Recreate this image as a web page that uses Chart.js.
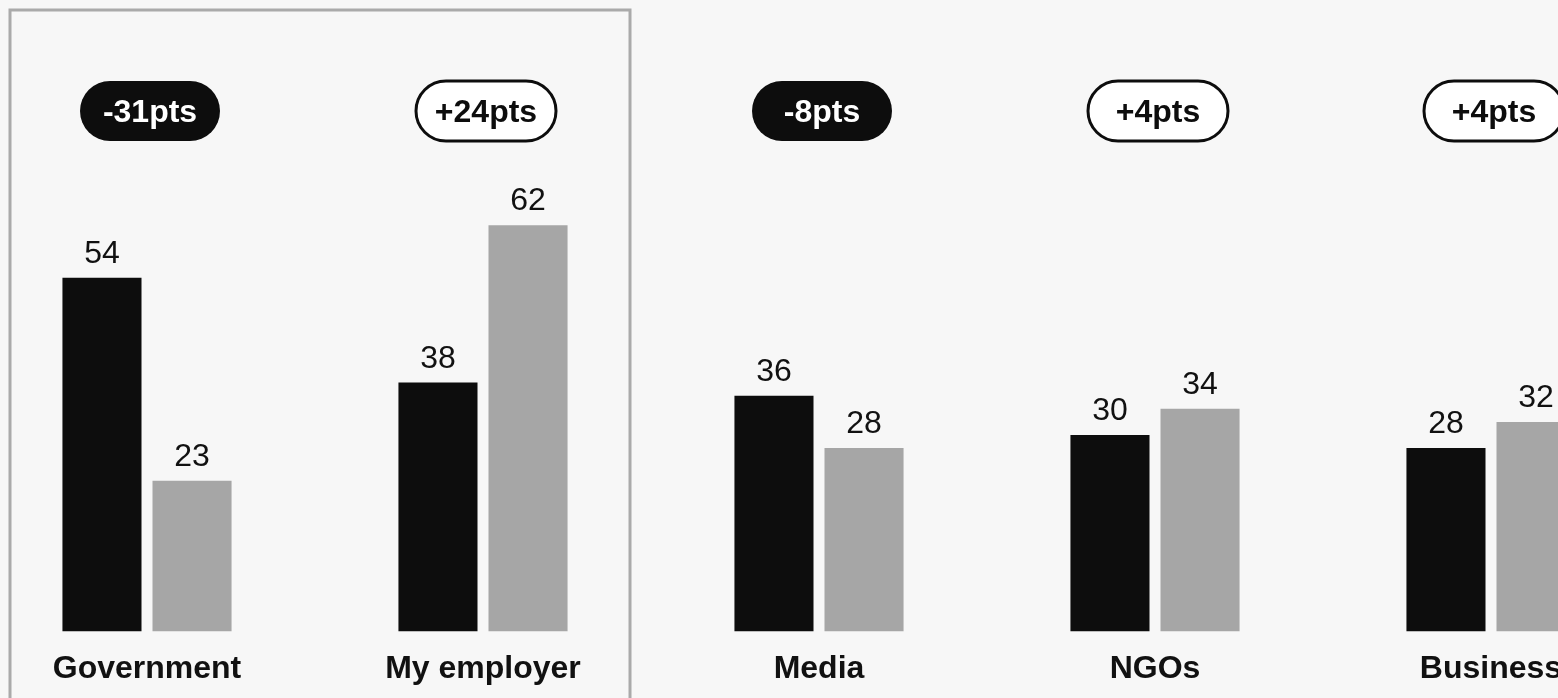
<!DOCTYPE html>
<html>
<head>
<meta charset="utf-8">
<script src="https://cdn.jsdelivr.net/npm/chart.js@4"></script>
<style>
  html, body { margin: 0; padding: 0; background: #f7f7f7; overflow: hidden; }
  #wrap { position: relative; width: 1558px; height: 698px; overflow: hidden; }
  #myChart { position: absolute; left: -21px; top: 0; }
</style>
</head>
<body>
<div id="wrap"><canvas id="myChart" width="1680" height="698"></canvas></div>
<script>
// data
const categories = ["Government", "My employer", "Media", "NGOs", "Business"];
const seriesA = [54, 38, 36, 30, 28];   // black
const seriesB = [23, 62, 28, 34, 32];   // gray
const changeLabels = ["-31pts", "+24pts", "-8pts", "+4pts", "+4pts"];

const FONT = "'Liberation Sans', Arial, sans-serif";
const BLACK = "#0d0d0d";
const GRAY = "#a6a6a6";

// value labels, pills and the box
const decorations = {
  id: 'decorations',
  beforeDatasetsDraw(chart) {
    const ctx = chart.ctx;
    const x = chart.scales.x;
    // highlighted box around first two categories
    const left = x.getPixelForValue(0) - 137;
    const right = x.getPixelForValue(1) + 147;
    ctx.save();
    ctx.strokeStyle = "#aaaaaa";
    ctx.lineWidth = 3;
    ctx.strokeRect(left, 10, right - left, chart.height + 20);
    ctx.restore();
  },
  afterDatasetsDraw(chart) {
    const ctx = chart.ctx;
    ctx.save();
    ctx.font = "32px " + FONT;
    ctx.fillStyle = "#111";
    ctx.textAlign = "center";
    ctx.textBaseline = "alphabetic";
    chart.data.datasets.forEach((ds, di) => {
      chart.getDatasetMeta(di).data.forEach((bar, i) => {
        ctx.fillText(String(ds.data[i]), bar.x, bar.y - 15);
      });
    });

    // pills
    const x = chart.scales.x;
    const w = 140, h = 60, cy = 111;
    ctx.font = "bold 32px " + FONT;
    ctx.textBaseline = "middle";
    changeLabels.forEach((txt, i) => {
      const cx = x.getPixelForValue(i) + 3;
      const neg = txt.charAt(0) === '-';
      ctx.beginPath();
      ctx.roundRect(cx - w / 2, cy - h / 2, w, h, h / 2);
      if (neg) {
        ctx.fillStyle = BLACK;
        ctx.fill();
        ctx.fillStyle = "#fff";
      } else {
        ctx.fillStyle = "#fff";
        ctx.fill();
        ctx.lineWidth = 3;
        ctx.strokeStyle = BLACK;
        ctx.stroke();
        ctx.fillStyle = BLACK;
      }
      ctx.fillText(txt, cx, cy + 2);
    });
    ctx.restore();
  }
};

new Chart(document.getElementById("myChart").getContext("2d"), {
  type: 'bar',
  data: {
    labels: categories,
    datasets: [
      { data: seriesA, backgroundColor: BLACK, categoryPercentage: 0.536, barPercentage: 0.878 },
      { data: seriesB, backgroundColor: GRAY, categoryPercentage: 0.536, barPercentage: 0.878 }
    ]
  },
  options: {
    responsive: false,
    animation: false,
    layout: { padding: { top: 9, bottom: 0, left: 0, right: 0 } },
    plugins: { legend: { display: false }, tooltip: { enabled: false } },
    scales: {
      x: {
        grid: { display: false },
        border: { display: false },
        ticks: {
          color: "#111",
          padding: 10,
          font: { family: FONT, size: 32, weight: 'bold' }
        }
      },
      y: {
        display: false,
        min: 0,
        max: 95
      }
    }
  },
  plugins: [decorations]
});
</script>
</body>
</html>
